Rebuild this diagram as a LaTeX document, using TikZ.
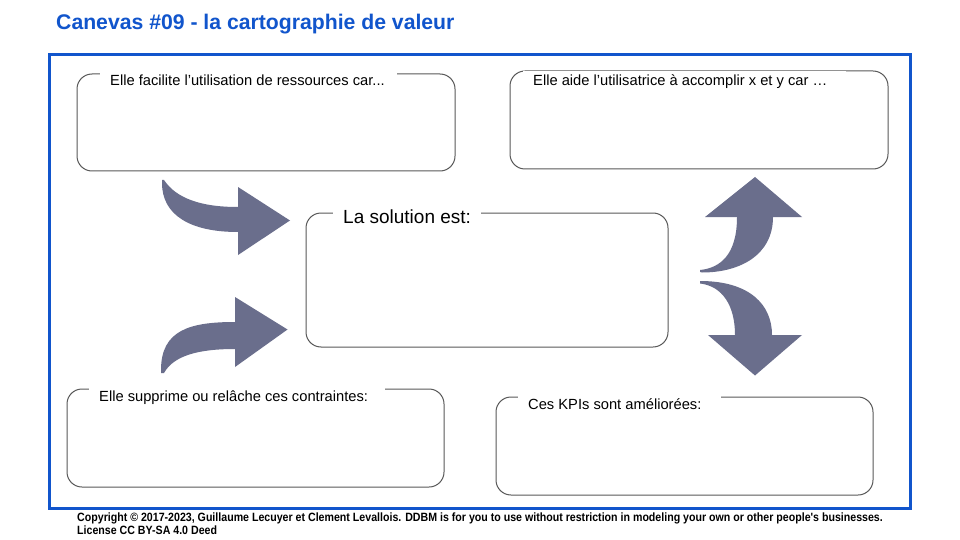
\documentclass[tikz,border=0pt]{standalone}
\usepackage{fontspec}
\setmainfont{Liberation Sans}
\newfontfamily\footfont{Liberation Sans}[FakeStretch=0.885]
\definecolor{gblue}{RGB}{17,85,204}
\definecolor{arrowc}{RGB}{106,110,140}
\definecolor{boxline}{RGB}{88,88,88}
\tikzset{
  cbox/.style={draw=boxline, line width=1pt, rounded corners=15pt},
  lbl/.style={fill=white, inner xsep=10pt, inner ysep=4pt, anchor=base west, font=\fontsize{14.7}{17}\selectfont},
  biglbl/.style={lbl, font=\fontsize{19}{22}\selectfont},
  curvarrow/.style={fill=arrowc, draw=none},
  footlbl/.style={anchor=base west, inner sep=0pt, font=\footfont\fontsize{12}{13}\selectfont\bfseries},
}
\begin{document}
\begin{tikzpicture}[x=1pt,y=-1pt]
\useasboundingbox (0,0) rectangle (960,540);
\fill[white] (0,0) rectangle (960,540);
% title
\node[anchor=base west, inner sep=0pt, text=gblue, font=\fontsize{21.2}{25}\selectfont\bfseries] (title) at (56,30) {Canevas \#09 - la cartographie de valeur};
% frame
\draw[gblue, line width=3pt] (49.5,55) rectangle (910,508) coordinate (frameSE);
\coordinate (frameNW) at (49.5,55);
% boxes
\draw[cbox] (77,74) rectangle (455,171);
\node[lbl] (l1) at (100,86) {Elle facilite l’utilisation de ressources car...\kern2pt\relax};
\draw[cbox] (510,71) rectangle (888,169);
\node[lbl] (l2) at (523,86) {Elle aide l’utilisatrice à accomplir x et y car …\kern9pt\relax};
\draw[cbox] (306,213) rectangle (668,347);
\node[biglbl] (l3) at (333,223) {La solution est:};
\draw[cbox] (67,389) rectangle (444,487);
\node[lbl] (l4) at (89,401.5) {Elle supprime ou relâche ces contraintes:\kern7pt\relax};
\draw[cbox] (496,397) rectangle (873,495);
\node[lbl] (l5) at (518,409.5) {Ces KPIs sont améliorées:\kern10pt\relax};
% arrows
\fill[curvarrow] (162,180) -- (164,180)
  .. controls (176,198) and (200,207) .. (238,207)
  -- (238,187) -- (290,220.5) -- (238,255) -- (238,232)
  .. controls (190,232) and (162,215) .. (162,183) -- cycle;
\fill[curvarrow] (161,373) -- (164,373)
  .. controls (174,355) and (200,349) .. (235,349)
  -- (235,367) -- (287.5,329.5) -- (235,297) -- (235,322)
  .. controls (190,322) and (161,330) .. (161,370) -- cycle;
\fill[curvarrow] (700,272) -- (702,272.5)
  .. controls (740,272.5) and (773,255) .. (773,217)
  -- (802,217) -- (755,177) -- (705,217) -- (737,217)
  .. controls (737,255) and (720,268) .. (700,270) -- cycle;
\fill[curvarrow] (700,281) .. controls (750,281) and (772,305) .. (772,335)
  -- (802,335) -- (755,375.5) -- (708,335) -- (735,335)
  .. controls (735,305) and (722,286) .. (700,283.5) -- cycle;
% footer
\node[footlbl] (foot1) at (77,521.5) {Copyright © 2017-2023, Guillaume Lecuyer et Clement Levallois. DDBM is for you to use without restriction in modeling your own or other people's businesses.};
\node[footlbl] (foot2) at (77,534.5) {License CC BY-SA 4.0 Deed};
\end{tikzpicture}
\end{document}
